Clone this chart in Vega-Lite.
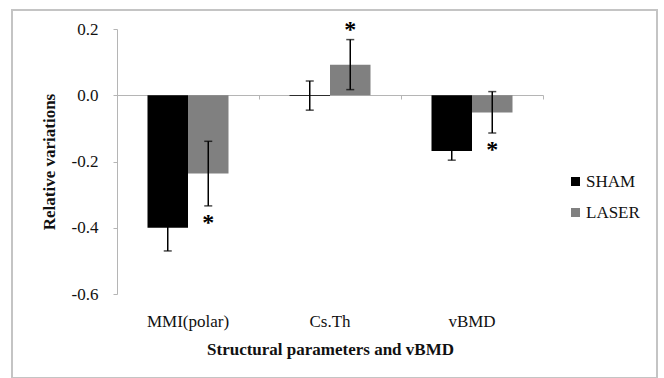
{
  "$schema": "https://vega.github.io/schema/vega-lite/v6.json",
  "width": 645,
  "height": 368,
  "autosize": {"type": "none"},
  "padding": {"left": 12, "top": 10, "right": 7, "bottom": 0},
  "background": "white",
  "view": {"stroke": "#c4c4c4", "strokeWidth": 2},
  "config": {
    "font": "Liberation Serif",
    "style": {
      "guide-label": {"font": "Liberation Serif", "fill": "#111"},
      "guide-title": {"font": "Liberation Serif", "fill": "#111"}
    },
    "axis": {"labelFont": "Liberation Serif", "titleFont": "Liberation Serif", "labelColor": "#111", "titleColor": "#111", "grid": false},
    "legend": {"labelFont": "Liberation Serif"}
  },
  "data": {
    "values": [
      {"param": "MMI(polar)", "group": "SHAM", "value": -0.400, "lo": -0.470, "hi": -0.330, "star": null},
      {"param": "MMI(polar)", "group": "LASER", "value": -0.236, "lo": -0.334, "hi": -0.139, "star": -0.387},
      {"param": "Cs.Th", "group": "SHAM", "value": -0.002, "lo": -0.045, "hi": 0.043, "star": null},
      {"param": "Cs.Th", "group": "LASER", "value": 0.092, "lo": 0.017, "hi": 0.168, "star": 0.198},
      {"param": "vBMD", "group": "SHAM", "value": -0.168, "lo": -0.196, "hi": -0.140, "star": null},
      {"param": "vBMD", "group": "LASER", "value": -0.052, "lo": -0.114, "hi": 0.011, "star": -0.164}
    ]
  },
  "resolve": {"axis": {"x": "independent", "y": "independent"}, "legend": {"color": "independent"}},
  "layer": [
    {
      "mark": {"type": "bar"},
      "encoding": {
        "x": {
          "field": "param", "type": "nominal", "sort": ["MMI(polar)", "Cs.Th", "vBMD"],
          "scale": {"type": "band", "range": [105, 531], "paddingInner": 0, "paddingOuter": 0},
          "axis": {"orient": "bottom", "offset": -65, "domain": false, "ticks": false, "tickSize": 0, "labelPadding": 0, "labelAngle": 0, "labelFont": "Liberation Serif", "labelFontSize": 17, "title": "Structural parameters and vBMD", "titleFont": "Liberation Serif", "titleFontSize": 17, "titleFontWeight": "bold", "titlePadding": 12}
        },
        "xOffset": {"field": "group", "type": "nominal", "sort": ["SHAM", "LASER"], "scale": {"paddingInner": 0, "paddingOuter": 0.753}},
        "y": {
          "field": "value", "type": "quantitative", "title": "Relative variations",
          "scale": {"domain": [-0.6, 0.2], "range": [284, 19], "nice": false, "zero": false},
          "axis": {"orient": "left", "offset": -105, "values": [-0.6, -0.4, -0.2, 0, 0.2], "labelExpr": "replace(format(datum.value, '.1f'), '\u2212', '-')", "domainColor": "#b5b5b5", "tickColor": "#b5b5b5", "tickSize": 4, "labelPadding": 15, "labelFont": "Liberation Serif", "labelFontSize": 17, "titleFont": "Liberation Serif", "titleFontSize": 17, "titleFontWeight": "bold", "titlePadding": 13}
        },
        "color": {
          "field": "group", "type": "nominal", "sort": ["SHAM", "LASER"],
          "scale": {"domain": ["SHAM", "LASER"], "range": ["#000000", "#808080"]},
          "legend": {"orient": "none", "legendX": 555, "legendY": 163, "title": null, "symbolType": "square", "symbolSize": 81, "symbolStrokeWidth": 0, "labelFont": "Liberation Serif", "labelFontSize": 17, "labelColor": "#111", "labelOffset": 2, "rowPadding": 13, "padding": 0}
        }
      }
    },
    {
      "mark": {"type": "rule", "color": "#000", "strokeWidth": 1.5},
      "encoding": {
        "x": {
          "field": "param", "type": "nominal", "sort": ["MMI(polar)", "Cs.Th", "vBMD"],
          "axis": {"orient": "top", "offset": -85, "domain": true, "domainColor": "#b5b5b5", "ticks": true, "tickColor": "#b5b5b5", "tickSize": -4, "bandPosition": 1, "tickExtra": true, "labels": false, "title": null}
        },
        "xOffset": {"field": "group", "type": "nominal", "sort": ["SHAM", "LASER"]},
        "y": {"field": "lo", "type": "quantitative", "axis": null},
        "y2": {"field": "hi"}
      }
    },
    {
      "mark": {"type": "tick", "color": "#000", "thickness": 1.5, "size": 8, "orient": "horizontal"},
      "encoding": {
        "x": {"field": "param", "type": "nominal", "sort": ["MMI(polar)", "Cs.Th", "vBMD"], "axis": null},
        "xOffset": {"field": "group", "type": "nominal", "sort": ["SHAM", "LASER"]},
        "y": {"field": "lo", "type": "quantitative", "axis": null}
      }
    },
    {
      "mark": {"type": "tick", "color": "#000", "thickness": 1.5, "size": 8, "orient": "horizontal"},
      "encoding": {
        "x": {"field": "param", "type": "nominal", "sort": ["MMI(polar)", "Cs.Th", "vBMD"], "axis": null},
        "xOffset": {"field": "group", "type": "nominal", "sort": ["SHAM", "LASER"]},
        "y": {"field": "hi", "type": "quantitative", "axis": null}
      }
    },
    {
      "transform": [{"filter": "datum.star != null"}],
      "mark": {"type": "text", "text": "*", "fontSize": 24, "fontWeight": "bold", "font": "Liberation Serif", "color": "#000", "baseline": "middle", "align": "center"},
      "encoding": {
        "x": {"field": "param", "type": "nominal", "sort": ["MMI(polar)", "Cs.Th", "vBMD"], "axis": null},
        "xOffset": {"field": "group", "type": "nominal", "sort": ["SHAM", "LASER"]},
        "y": {"field": "star", "type": "quantitative", "axis": null}
      }
    }
  ]
}
